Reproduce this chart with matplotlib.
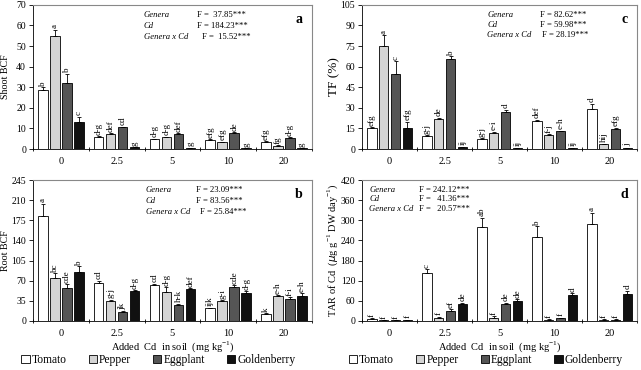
import numpy as np
import matplotlib
matplotlib.use("Agg")
import matplotlib.pyplot as plt

plt.rcParams['font.family'] = ['Liberation Serif', 'DejaVu Serif']
plt.rcParams['mathtext.fontset'] = 'custom'
plt.rcParams['mathtext.rm'] = 'Liberation Serif'

# Cd levels and genera
cd_levels = ['0', '2.5', '5', '10', '20']
genera = ['Tomato', 'Pepper', 'Eggplant', 'Goldenberry']
colors = ['white', '#d4d4d4', '#555555', '#111111']

# panel a: shoot BCF
shoot_bcf = [[28.5, 6.0, 4.8, 4.5, 3.5],
             [55.0, 7.5, 5.8, 3.3, 1.5],
             [32.0, 10.5, 7.5, 7.8, 5.3],
             [13.2, 0.8, 0.6, 0.4, 0.3]]
shoot_err = [[1.5, 0.3, 0.3, 0.2, 0.3],
             [3.0, 0.3, 0.3, 0.3, 0.3],
             [4.5, 0.4, 0.3, 0.4, 0.5],
             [2.5, 0.1, 0.1, 0.1, 0.1]]
shoot_let = [['b', 'd-g', 'd-g', 'efg', 'efg'],
             ['a', 'def', 'd-g', 'efg', 'fg'],
             ['b', 'cd', 'def', 'de', 'd-g'],
             ['c', 'g', 'g', 'g', 'g']]

# panel b: root BCF
root_bcf = [[182, 66, 63, 22, 12],
            [75, 34, 51, 35, 44],
            [58, 16, 28, 59, 38],
            [85, 52, 55, 48, 44]]
root_err = [[22, 4, 2, 1, 1],
            [8, 3, 8, 1, 1],
            [6, 1, 2, 3, 3],
            [10, 1, 2, 4, 4]]
root_let = [['a', 'cd', 'cd', 'ijk', 'k'],
            ['bc', 'g-j', 'd-g', 'g-i', 'e-h'],
            ['cde', 'jk', 'h-k', 'cde', 'f-i'],
            ['b', 'd-g', 'def', 'd-g', 'e-h']]

# panel c: TF (%)
tf = [[15.5, 9.5, 7.5, 20.5, 29.0],
      [75.0, 22.0, 11.5, 10.5, 3.5],
      [55.0, 65.5, 27.0, 13.0, 14.5],
      [15.0, 1.5, 1.0, 1.0, 0.8]]
tf_err = [[0.6, 0.5, 0.3, 0.8, 4.0],
          [8.0, 1.0, 1.0, 0.5, 0.5],
          [9.0, 2.0, 1.5, 0.5, 1.0],
          [5.0, 0.1, 0.1, 0.1, 0.1]]
tf_let = [['efg', 'g-j', 'g-j', 'def', 'd'],
          ['a', 'de', 'e-i', 'f-j', 'hij'],
          ['c', 'b', 'd', 'e-h', 'efg'],
          ['efg', 'ij', 'ij', 'ij', 'j']]

# panel d: TAR of Cd
tar = [[7, 143, 280, 250, 290],
       [2, 10, 10, 4, 4],
       [2, 30, 52, 9, 4],
       [3, 52, 60, 78, 80]]
tar_err = [[1, 12, 28, 32, 32],
           [1, 3, 4, 1, 1],
           [1, 5, 3, 1, 1],
           [1, 3, 5, 5, 10]]
tar_let = [['f', 'c', 'ab', 'b', 'a'],
           ['f', 'f', 'f', 'f', 'f'],
           ['f', 'ef', 'de', 'f', 'f'],
           ['f', 'de', 'de', 'd', 'd']]

panels = [
    dict(vals=shoot_bcf, err=shoot_err, let=shoot_let, ymax=70, step=10, ylabel='Shoot BCF',
         tag='a', F=['F =  37.85***', 'F = 184.23***', 'F =  15.52***'],
         pos=[0.0515, 0.597, 0.435, 0.39], gx=0.398, fx=(0.588, 0.606), dy=0.077,
         ysz=7.2, lx=-0.083),
    dict(vals=tf, err=tf_err, let=tf_let, ymax=105, step=15, ylabel='TF (%)',
         tag='c', F=['F = 82.62***', 'F = 59.98***', 'F = 28.19***'],
         pos=[0.565, 0.597, 0.429, 0.39], gx=0.455, fx=(0.647, 0.655), dy=0.07,
         ysz=9.5, lx=-0.08),
    dict(vals=root_bcf, err=root_err, let=root_let, ymax=245, step=35, ylabel='Root BCF',
         tag='b', F=['F = 23.09***', 'F = 83.56***', 'F = 25.84***'],
         pos=[0.0515, 0.1325, 0.435, 0.381], gx=0.405, fx=(0.584, 0.598), dy=0.078,
         ysz=7.2, lx=-0.083),
    dict(vals=tar, err=tar_err, let=tar_let, ymax=420, step=60,
         ylabel=r'TAR of Cd  ($\mu$g g$^{-1}$ DW day$^{-1}$)',
         tag='d', F=['F = 242.12***', 'F =   41.36***', 'F =   20.57***'],
         pos=[0.565, 0.1325, 0.429, 0.381], gx=0.025, fx=(0.207, 0.207), dy=0.067,
         ysz=7.5, lx=-0.08),
]

fig = plt.figure(figsize=(6.41, 3.70), dpi=100)

x = np.arange(len(cd_levels))
step_w = 0.215
bar_w = 0.17
row_names = ['Genera', 'Cd', 'Genera x Cd']

for p in panels:
    ax = fig.add_axes(p['pos'])
    bars = []
    for i, g in enumerate(genera):
        xi = x + (i - 1.5) * step_w
        v = np.array(p['vals'][i], dtype=float)
        e = np.array(p['err'][i], dtype=float)
        b = ax.bar(xi, v, bar_w, color=colors[i], edgecolor='black', linewidth=0.6,
                   label=g, zorder=2)
        ax.errorbar(xi, v, yerr=[np.zeros_like(e), e], fmt='none', ecolor='black',
                    elinewidth=0.6, capsize=1.2, capthick=0.6, zorder=3)
        bars.append(b)
        for xx, vv, ee, lt in zip(xi, v, e, p['let'][i]):
            ax.text(xx, vv + ee + p['ymax'] * 0.01, lt, rotation=90, ha='center',
                    va='bottom', fontsize=6.5)
    ax.set_xlim(-0.5, len(cd_levels) - 0.5)
    ax.set_ylim(0, p['ymax'])
    ax.set_yticks(np.arange(0, p['ymax'] + 1, p['step']))
    ax.set_xticks(x)
    ax.set_xticklabels(cd_levels)
    ax.set_xticks(np.arange(-0.5, len(cd_levels), 1.0), minor=True)
    ax.tick_params(axis='x', which='major', length=0, labelsize=7.5, pad=6)
    ax.tick_params(axis='x', which='minor', length=3, direction='inout', width=0.6)
    ax.tick_params(axis='y', length=3, width=0.6, labelsize=7, pad=2)
    for s in ['top', 'right']:
        ax.spines[s].set_color('#888888')
        ax.spines[s].set_linewidth(0.8)
    ax.spines['left'].set_linewidth(0.6)
    ax.spines['bottom'].set_linewidth(0.6)
    ax.set_ylabel(p['ylabel'], fontsize=p['ysz'])
    ax.yaxis.set_label_coords(p['lx'], 0.5)

    # two-way ANOVA results
    for k in range(3):
        yy = 0.93 - k * p['dy']
        ax.text(p['gx'], yy, row_names[k], transform=ax.transAxes, fontsize=6.2,
                style='italic', va='center')
        ax.text(p['fx'][0] if k < 2 else p['fx'][1], yy, p['F'][k],
                transform=ax.transAxes, fontsize=6.2, va='center')
    ax.text(0.953, 0.9, p['tag'], transform=ax.transAxes, fontsize=10, fontweight='bold',
            ha='center', va='center')

    if p['tag'] in ('b', 'd'):
        ax.set_xlabel(r'Added  Cd  in soil  (mg kg$^{-1}$)', fontsize=7.5, labelpad=1)
        ax.legend(handles=bars, labels=genera, ncol=4, loc='upper center',
                  bbox_to_anchor=(0.45, -0.2), frameon=False, fontsize=8.3,
                  handlelength=0.7, handleheight=0.7, handletextpad=0.2,
                  columnspacing=1.9, borderaxespad=0)

fig.savefig('out.png', dpi=100)
